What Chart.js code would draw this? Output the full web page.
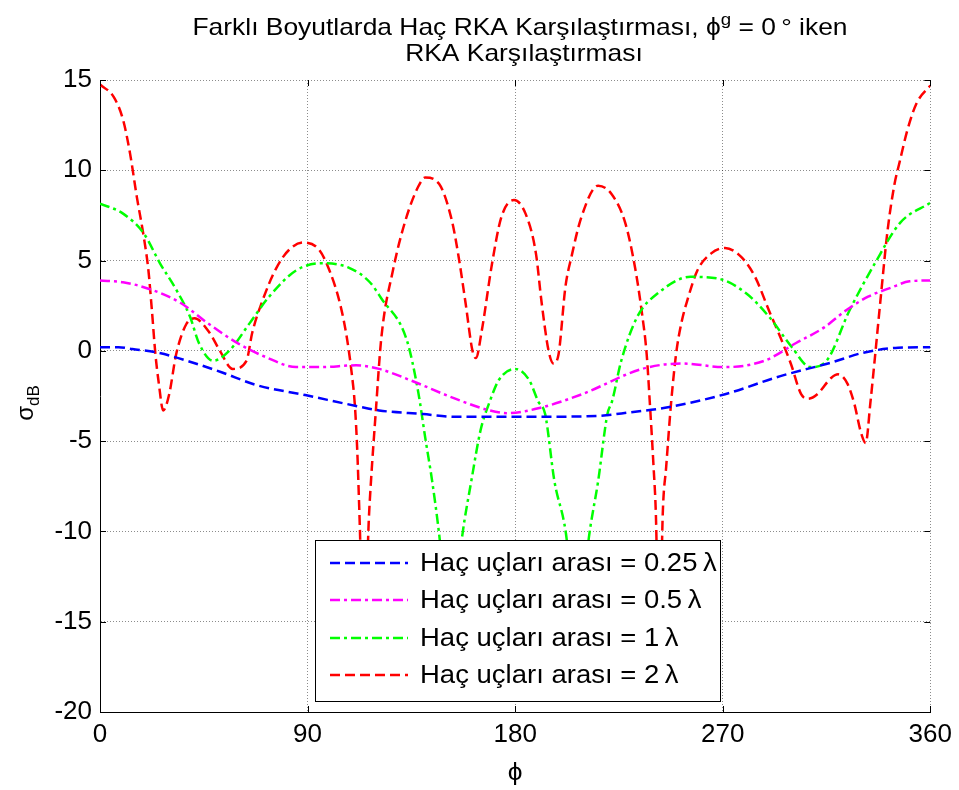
<!DOCTYPE html>
<html><head><meta charset="utf-8">
<script src="https://cdn.jsdelivr.net/npm/chart.js@4/dist/chart.umd.min.js"></script>
<style>html,body{margin:0;padding:0;background:#fff;overflow:hidden}</style>
</head><body>
<canvas id="c" width="959" height="790"></canvas>
<script>
// ---- data ----
const xTicks = [0, 90, 180, 270, 360];
const yTicks = [15, 10, 5, 0, -5, -10, -15, -20];
const seriesLabels = ['Haç uçları arası = 0.25\u2009λ', 'Haç uçları arası = 0.5\u2009λ', 'Haç uçları arası = 1\u2009λ', 'Haç uçları arası = 2\u2009λ'];

const phi025 = [0, 8, 14, 25, 39, 53, 68, 89, 111, 121, 140, 154, 176, 190, 216, 230, 245, 271, 295, 317, 331, 346, 360];
const rka025 = [0.2, 0.2, 0.1, -0.1, -0.6, -1.2, -1.9, -2.45, -3.05, -3.3, -3.5, -3.65, -3.65, -3.65, -3.6, -3.4, -3.15, -2.4, -1.4, -0.65, -0.1, 0.17, 0.2];

const phi05 = [0, 10, 22, 35, 46, 60, 72, 85, 96, 111, 121, 135, 154, 169, 177, 191, 209, 235, 252, 271, 288, 302, 314, 323, 333, 343, 351, 360];
const rka05 = [3.9, 3.8, 3.4, 2.65, 1.6, 0.4, -0.35, -0.9, -0.9, -0.8, -1.0, -1.65, -2.65, -3.3, -3.45, -3.15, -2.4, -1.0, -0.7, -0.9, -0.55, 0.45, 1.3, 2.2, 3.0, 3.5, 3.85, 3.9];

const phi1 = [0, 10, 19, 26, 33, 39, 43, 49, 56, 65, 73, 85, 96, 108, 117, 122, 133, 138, 141, 144, 147, 152, 157, 161, 165, 169, 173, 180, 186, 190, 193, 197, 202, 207, 212, 216, 220, 222, 226, 233, 242, 256, 268, 280, 290, 300, 308, 315, 325, 336, 347, 360];
const rka1 = [8.15, 7.6, 6.5, 4.85, 3.4, 1.9, 0.4, -0.55, 0, 1.55, 2.95, 4.45, 4.85, 4.6, 3.8, 2.9, 0.6, -2.3, -4.8, -7.2, -10.1, -16, -10.3, -7.2, -4.4, -2.8, -1.6, -1.0, -1.6, -2.8, -3.5, -7.2, -10.1, -16, -10.3, -7.2, -3.5, -2.8, -0.55, 1.9, 3.2, 4.1, 4.0, 3.2, 1.9, 0.2, -0.9, -0.55, 2.25, 4.85, 7.1, 8.2];

const phi2 = [0, 6, 10, 13, 16, 19, 21, 22.5, 24, 25.5, 27.4, 30, 33, 37.5, 41, 47.5, 52, 57.5, 63.5, 66, 70.5, 76.5, 82, 88, 95, 99.5, 104, 107, 109, 110.5, 111.5, 112.5, 114.5, 116.5, 117.5, 119.5, 122, 127, 132.5, 138, 141, 147, 152.5, 155.5, 158.5, 161.5, 163, 165.5, 170, 174, 179.5, 184.5, 189, 191.5, 194.5, 196.6, 198.8, 201.8, 204.4, 208.7, 216, 221.7, 227.7, 232, 234.8, 237, 238.4, 240, 241, 242.5, 244, 245.5, 247.6, 249.8, 252, 255, 259, 265, 271, 278, 284, 290, 295, 299.5, 304, 307, 311, 317, 320, 324, 327, 330, 332, 334, 336, 338.5, 341.5, 344.5, 346.6, 350, 354, 360];
const rka2 = [14.75, 14.05, 12.8, 10.95, 8.5, 6.3, 4.45, 2.25, -0.15, -1.8, -3.3, -2.4, -0.2, 1.5, 1.8, 1.0, 0, -1.0, -0.55, 1.0, 2.8, 4.6, 5.6, 6.0, 5.6, 4.45, 2.65, 0.75, -1.1, -3.0, -5.4, -9.1, -17, -9.5, -7.2, -3.5, 0.75, 4.45, 7.25, 9.1, 9.6, 9.25, 7.25, 5.2, 2.65, 0.0, -0.4, 1.1, 4.85, 7.4, 8.35, 7.6, 5.4, 2.65, 0.0, -0.7, -0.2, 3.55, 5.2, 7.4, 9.15, 8.7, 7.1, 4.6, 2.25, -0.15, -2.9, -6.4, -9, -17, -9, -6.4, -2.9, -0.15, 1.5, 2.95, 4.45, 5.4, 5.7, 5.2, 4.1, 2.25, 0.75, -0.7, -2.4, -2.65, -2.4, -1.5, -1.3, -1.8, -2.9, -4.55, -5.1, -2.9, -0.35, 2.95, 6.7, 9.25, 10.4, 12.2, 13.7, 14.7];

// ---- styles ----
const FONT = '"Liberation Sans", Arial, Helvetica, sans-serif';
const colors = ['#0000ff', '#ff00ff', '#00ff00', '#ff0000'];
const dashes = [[10, 5], [10, 4, 3, 4], [10, 4, 3, 4], [10, 5]];

function pts(xs, ys) { return xs.map((x, i) => ({x: x, y: ys[i]})); }
const datasets = [[phi025, rka025], [phi05, rka05], [phi1, rka1], [phi2, rka2]].map((d, i) => ({
  label: seriesLabels[i],
  data: pts(d[0], d[1]),
  borderColor: colors[i],
  borderWidth: 2.5,
  borderDash: dashes[i],
  pointRadius: 0,
  fill: false,
  cubicInterpolationMode: 'monotone'
}));

// draw text horizontally stretched (the reference figure is wider than tall)
function stretchedText(ctx, segs, cx, align, sx) {
  let total = 0;
  segs.forEach(s => { ctx.font = s.font; s.w = ctx.measureText(s.t).width; total += s.w; });
  ctx.save();
  ctx.translate(cx, 0);
  ctx.scale(sx, 1);
  let x = align === 'center' ? -total / 2 : 0;
  ctx.textAlign = 'left';
  segs.forEach(s => { ctx.font = s.font; ctx.fillText(s.t, x, s.y); x += s.w; });
  ctx.restore();
}

const decor = {
  id: 'decor',
  afterDraw(chart) {
    const ctx = chart.ctx;
    const a = chart.chartArea;
    const xs = chart.scales.x, ys = chart.scales.y;
    ctx.save();
    // inside ticks
    ctx.strokeStyle = '#000'; ctx.lineWidth = 1; ctx.setLineDash([]);
    ctx.beginPath();
    yTicks.forEach(v => { const y = Math.round(ys.getPixelForValue(v)) + 0.5;
      ctx.moveTo(a.left, y); ctx.lineTo(a.left + 6, y);
      ctx.moveTo(a.right, y); ctx.lineTo(a.right - 6, y); });
    xTicks.forEach(v => { const x = Math.round(xs.getPixelForValue(v)) + 0.5;
      ctx.moveTo(x, a.bottom); ctx.lineTo(x, a.bottom - 6);
      ctx.moveTo(x, a.top); ctx.lineTo(x, a.top + 6); });
    ctx.stroke();

    ctx.fillStyle = '#000';
    ctx.textBaseline = 'alphabetic';
    const F = '24px ' + FONT, S = '17px ' + FONT;
    // title
    stretchedText(ctx, [
      {t: 'Farklı Boyutlarda Haç RKA Karşılaştırması, ϕ', font: F, y: 35},
      {t: 'g', font: S, y: 25},
      {t: ' = 0\u2009° iken', font: F, y: 35}
    ], 520, 'center', 1.1);
    stretchedText(ctx, [{t: 'RKA Karşılaştırması', font: F, y: 61}], 524, 'center', 1.1);
    // x label
    stretchedText(ctx, [{t: 'ϕ', font: F, y: 780}], (a.left + a.right) / 2, 'center', 1.1);
    // y label
    ctx.save();
    ctx.translate(33, 403); ctx.rotate(-Math.PI / 2);
    ctx.textAlign = 'left';
    ctx.font = F; const ws = ctx.measureText('σ').width;
    ctx.font = S; const wd = ctx.measureText('dB').width;
    const sx = -(ws + wd) / 2;
    ctx.font = F; ctx.fillText('σ', sx, 0);
    ctx.font = S; ctx.fillText('dB', sx + ws, 6);
    ctx.restore();

    // legend
    const L = 315, T = 540, R = 720, B = 701;
    ctx.fillStyle = '#fff'; ctx.fillRect(L, T, R - L, B - T);
    ctx.strokeStyle = '#000'; ctx.lineWidth = 1;
    ctx.strokeRect(L + 0.5, T + 0.5, R - L, B - T);
    const rows = [563, 600, 638, 675];
    ctx.textBaseline = 'middle';
    datasets.forEach((d, i) => {
      ctx.strokeStyle = d.borderColor; ctx.lineWidth = 2.5; ctx.setLineDash(d.borderDash);
      ctx.beginPath(); ctx.moveTo(330, rows[i]); ctx.lineTo(408, rows[i]); ctx.stroke();
      ctx.setLineDash([]);
      ctx.fillStyle = '#000';
      stretchedText(ctx, [{t: d.label, font: '25px ' + FONT, y: rows[i] + 1}], 420, 'left', 1.1);
    });
    ctx.restore();
  }
};

new Chart(document.getElementById('c'), {
  type: 'line',
  data: {datasets: datasets},
  options: {
    responsive: false,
    animation: false,
    devicePixelRatio: 1,
    layout: {padding: {top: 80, right: 26, left: 0, bottom: 0}},
    plugins: {legend: {display: false}, title: {display: false}, tooltip: {enabled: false}},
    scales: {
      x: {
        type: 'linear', min: 0, max: 360,
        afterBuildTicks: s => { s.ticks = xTicks.map(v => ({value: v})); },
        afterFit: s => { s.height = 78; },
        ticks: {font: {family: FONT, size: 26}, color: '#000', padding: 7, maxRotation: 0},
        grid: {color: 'rgba(0,0,0,0.45)', lineWidth: 1, drawTicks: false},
        border: {display: true, color: '#000', width: 1, dash: [1, 2]}
      },
      y: {
        type: 'linear', min: -20, max: 15,
        afterBuildTicks: s => { s.ticks = yTicks.map(v => ({value: v})); },
        afterFit: s => { s.width = 100; },
        ticks: {font: {family: FONT, size: 26}, color: '#000', padding: 8},
        grid: {color: 'rgba(0,0,0,0.45)', lineWidth: 1, drawTicks: false},
        border: {display: true, color: '#000', width: 1, dash: [1, 2]}
      }
    }
  },
  plugins: [decor]
});
</script>
</body></html>
